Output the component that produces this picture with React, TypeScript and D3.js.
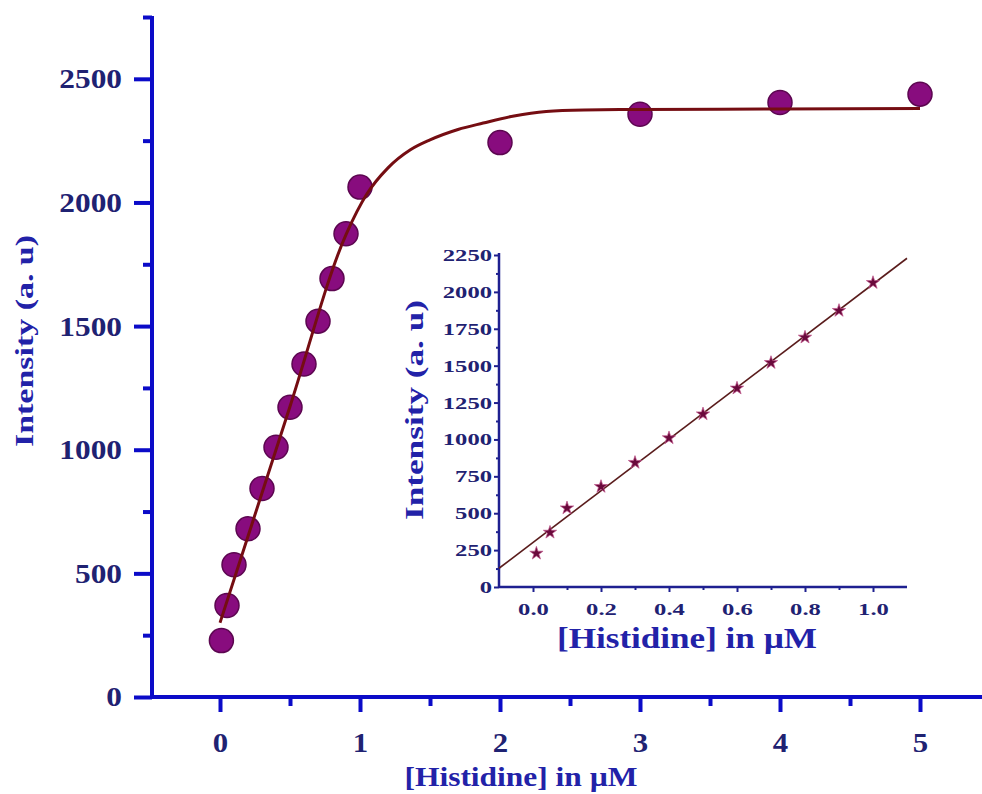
import React, { useRef, useEffect } from 'react';
import * as d3 from 'd3';

// measured points, [Histidine] in uM vs intensity
const conc = [0.01, 0.05, 0.1, 0.2, 0.3, 0.4, 0.5, 0.6, 0.7, 0.8, 0.9, 1.0, 2, 3, 4, 5];
const intensity = [228, 370, 535, 680, 843, 1010, 1172, 1347, 1520, 1692, 1873, 2062, 2242, 2357, 2404, 2438];

// fitted curve in the main plot
const fitCurveX = [0, 0.5, 0.9, 1.05, 1.2, 1.36, 1.5, 1.7, 1.88, 2.1, 2.33, 2.6, 3, 4, 5];
const fitCurveY = [300, 1175, 1870, 2035, 2140, 2213, 2253, 2295, 2321, 2350, 2368, 2374, 2376, 2378, 2380];

// linear fit in the inset
const insetLineX = [-0.1, 1.1];
const insetLineY = [127, 2228];

const mainXTicks = [0, 1, 2, 3, 4, 5];
const mainXMinor = [0.5, 1.5, 2.5, 3.5, 4.5];
const mainYTicks = [0, 500, 1000, 1500, 2000, 2500];
const mainYMinor = [250, 750, 1250, 1750, 2250, 2750];
const insetXTicks = [0, 0.2, 0.4, 0.6, 0.8, 1.0];
const insetXMinor = [0.1, 0.3, 0.5, 0.7, 0.9];
const insetYTicks = [0, 250, 500, 750, 1000, 1250, 1500, 1750, 2000, 2250];
const insetYMinor = [125, 375, 625, 875, 1125, 1375, 1625, 1875, 2125];

const FONT = '"Liberation Serif", "Times New Roman", serif';

const App = () => {
  const svgRef = useRef<SVGSVGElement>(null);

  useEffect(() => {
    const svg = d3.select(svgRef.current);
    svg.selectAll('*').remove();

    const axisBlue = '#0b0bc8';
    const tickText = '#1f2272';
    const titleBlue = '#2222a8';

    // ---------- main plot ----------
    const x = d3.scaleLinear().domain([-0.5, 5.5]).range([150, 990]);
    const y = d3.scaleLinear().domain([0, 2750]).range([697, 17]);

    const styleAxis = (g, color, width, scaleX, fontSize) => {
      g.select('.domain').remove();
      g.selectAll('line').attr('stroke', color).attr('stroke-width', width);
      g.selectAll('text')
        .attr('fill', tickText)
        .attr('font-family', FONT)
        .attr('font-weight', 'bold')
        .attr('font-size', fontSize)
        .attr('transform', `scale(${scaleX},1)`);
    };

    const gxMinor = svg.append('g').attr('transform', `translate(0,${y(0)})`)
      .call(d3.axisBottom(x).tickValues(mainXMinor).tickSize(9).tickFormat(() => ''));
    styleAxis(gxMinor, axisBlue, 4, 1, 28);
    const gx = svg.append('g').attr('transform', `translate(0,${y(0)})`)
      .call(d3.axisBottom(x).tickValues(mainXTicks).tickSize(15).tickPadding(20).tickFormat(d3.format('d')));
    styleAxis(gx, axisBlue, 4, 1.1, 28);

    const gyMinor = svg.append('g').attr('transform', `translate(${x(-0.5) + 2},0)`)
      .call(d3.axisLeft(y).tickValues(mainYMinor).tickSize(9).tickFormat(() => ''));
    styleAxis(gyMinor, axisBlue, 4, 1, 28);
    const gy = svg.append('g').attr('transform', `translate(${x(-0.5) + 2},0)`)
      .call(d3.axisLeft(y).tickValues(mainYTicks).tickSize(18).tickPadding(8).tickFormat(d3.format('d')));
    styleAxis(gy, axisBlue, 4, 1.12, 28);
    gy.selectAll('text').attr('x', -30 / 1.12);

    svg.append('line')
      .attr('x1', x(-0.5) + 2).attr('x2', x(-0.5) + 2)
      .attr('y1', y(2750) - 1).attr('y2', y(0) + 2)
      .attr('stroke', axisBlue).attr('stroke-width', 4);
    svg.append('line')
      .attr('x1', x(-0.5)).attr('x2', 982)
      .attr('y1', y(0)).attr('y2', y(0))
      .attr('stroke', axisBlue).attr('stroke-width', 4);

    svg.append('text')
      .attr('x', 521).attr('y', 786)
      .attr('text-anchor', 'middle')
      .attr('font-family', FONT).attr('font-weight', 'bold').attr('font-size', 28)
      .attr('fill', titleBlue)
      .attr('textLength', 233).attr('lengthAdjust', 'spacingAndGlyphs')
      .text('[Histidine] in \u00b5M');

    svg.append('text')
      .attr('transform', 'translate(33,341) rotate(-90)')
      .attr('text-anchor', 'middle')
      .attr('font-family', FONT).attr('font-weight', 'bold').attr('font-size', 26)
      .attr('fill', titleBlue)
      .attr('textLength', 212).attr('lengthAdjust', 'spacingAndGlyphs')
      .text('Intensity (a. u)');

    const points = conc.map((c, i) => ({ c, v: intensity[i] }));

    svg.append('g').selectAll('circle')
      .data(points)
      .enter().append('circle')
      .attr('cx', d => x(d.c))
      .attr('cy', d => y(d.v))
      .attr('r', 12)
      .attr('fill', '#880c7e')
      .attr('stroke', '#5c0650')
      .attr('stroke-width', 1.5);

    const curve = fitCurveX.map((c, i) => [c, fitCurveY[i]]);
    svg.append('path')
      .datum(curve)
      .attr('fill', 'none')
      .attr('stroke', '#750d12')
      .attr('stroke-width', 3)
      .attr('d', d3.line().x(d => x(d[0])).y(d => y(d[1])).curve(d3.curveMonotoneX));

    // ---------- inset ----------
    const ix = d3.scaleLinear().domain([-0.1, 1.1]).range([499, 907]);
    const iy = d3.scaleLinear().domain([0, 2250]).range([587, 255]);
    const insetBlue = '#1e2090';
    const insetScale = 1.45;

    const ixMinor = svg.append('g').attr('transform', `translate(0,${iy(0)})`)
      .call(d3.axisBottom(ix).tickValues(insetXMinor).tickSize(3).tickFormat(() => ''));
    styleAxis(ixMinor, insetBlue, 2, 1, 17);
    const ixg = svg.append('g').attr('transform', `translate(0,${iy(0)})`)
      .call(d3.axisBottom(ix).tickValues(insetXTicks).tickSize(5).tickPadding(11).tickFormat(d3.format('.1f')));
    styleAxis(ixg, insetBlue, 2, insetScale, 17);

    const iyMinor = svg.append('g').attr('transform', `translate(${ix(-0.1)},0)`)
      .call(d3.axisLeft(iy).tickValues(insetYMinor).tickSize(3).tickFormat(() => ''));
    styleAxis(iyMinor, insetBlue, 2, 1, 17);
    const iyg = svg.append('g').attr('transform', `translate(${ix(-0.1)},0)`)
      .call(d3.axisLeft(iy).tickValues(insetYTicks).tickSize(5).tickPadding(1).tickFormat(d3.format('d')));
    styleAxis(iyg, insetBlue, 2, insetScale, 17);
    iyg.selectAll('text').attr('x', -7 / insetScale);

    svg.append('line')
      .attr('x1', ix(-0.1)).attr('x2', ix(-0.1))
      .attr('y1', iy(2250) - 2).attr('y2', iy(0))
      .attr('stroke', insetBlue).attr('stroke-width', 2.5);
    svg.append('line')
      .attr('x1', ix(-0.1)).attr('x2', ix(1.1))
      .attr('y1', iy(0)).attr('y2', iy(0))
      .attr('stroke', insetBlue).attr('stroke-width', 2.5);

    svg.append('text')
      .attr('x', 687).attr('y', 648)
      .attr('text-anchor', 'middle')
      .attr('font-family', FONT).attr('font-weight', 'bold').attr('font-size', 30)
      .attr('fill', titleBlue)
      .attr('textLength', 260).attr('lengthAdjust', 'spacingAndGlyphs')
      .text('[Histidine] in \u00b5M');

    svg.append('text')
      .attr('transform', 'translate(423,410) rotate(-90)')
      .attr('text-anchor', 'middle')
      .attr('font-family', FONT).attr('font-weight', 'bold').attr('font-size', 26)
      .attr('fill', titleBlue)
      .attr('textLength', 220).attr('lengthAdjust', 'spacingAndGlyphs')
      .text('Intensity (a. u)');

    const lineData = insetLineX.map((c, i) => [c, insetLineY[i]]);
    svg.append('path')
      .datum(lineData)
      .attr('fill', 'none')
      .attr('stroke', '#5a1c1c')
      .attr('stroke-width', 1.6)
      .attr('d', d3.line().x(d => ix(d[0])).y(d => iy(d[1])));

    const insetPts = points.filter(d => d.c <= 1);
    svg.append('g').selectAll('path')
      .data(insetPts)
      .enter().append('path')
      .attr('transform', d => `translate(${ix(d.c)},${iy(d.v)})`)
      .attr('d', d3.symbol(d3.symbolStar, 55)())
      .attr('fill', '#6a0a3c')
      .attr('stroke', '#c2588c')
      .attr('stroke-width', 0.7);
  }, []);

  return (
    <svg
      ref={svgRef}
      width={982}
      height={794}
      style={{ position: 'absolute', left: 0, top: 0, background: '#fff' }}
    />
  );
};

export default App;
